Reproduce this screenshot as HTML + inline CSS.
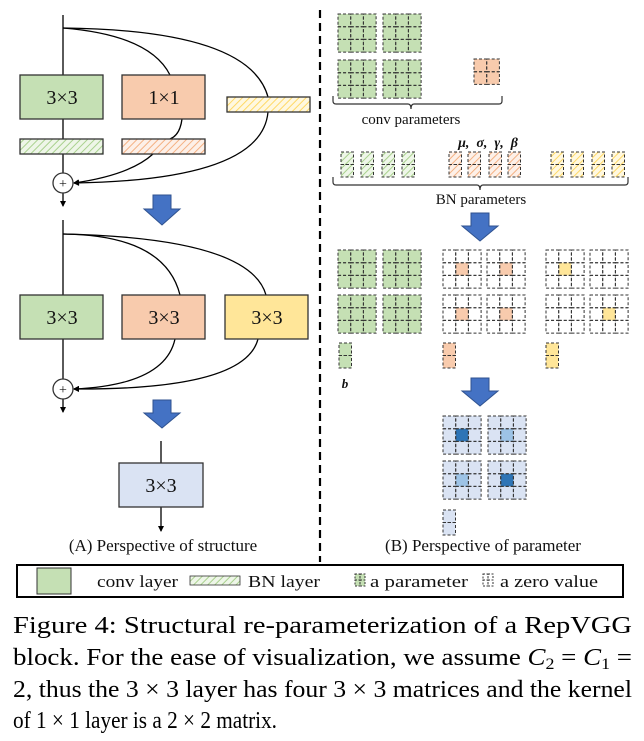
<!DOCTYPE html>
<html><head><meta charset="utf-8"><style>
html,body{margin:0;padding:0;background:#fff;}
svg{display:block;font-family:"Liberation Serif",serif;}
</style></head><body>
<svg width="644" height="741" viewBox="0 0 644 741" xmlns="http://www.w3.org/2000/svg">
<defs>
<pattern id="hg" width="5" height="5" patternUnits="userSpaceOnUse" patternTransform="rotate(45)"><rect width="5" height="5" fill="#eef6e8"/><line x1="0" y1="0" x2="0" y2="5" stroke="#a9d18e" stroke-width="2"/></pattern>
<pattern id="ho" width="5" height="5" patternUnits="userSpaceOnUse" patternTransform="rotate(45)"><rect width="5" height="5" fill="#fdf0e8"/><line x1="0" y1="0" x2="0" y2="5" stroke="#f4b183" stroke-width="2"/></pattern>
<pattern id="hy" width="5" height="5" patternUnits="userSpaceOnUse" patternTransform="rotate(45)"><rect width="5" height="5" fill="#fff8e0"/><line x1="0" y1="0" x2="0" y2="5" stroke="#ffd966" stroke-width="2"/></pattern>
<marker id="ar" markerWidth="6" markerHeight="6" refX="5" refY="3" orient="auto" markerUnits="userSpaceOnUse"><path d="M0,0 L6,3 L0,6 z" fill="#000"/></marker>
<g id="g3" fill="none" stroke="#333" stroke-width="1" stroke-dasharray="3,2">
<rect x="0" y="0" width="12.7" height="12.7"/><rect x="12.7" y="0" width="12.7" height="12.7"/><rect x="25.4" y="0" width="12.7" height="12.7"/>
<rect x="0" y="12.7" width="12.7" height="12.7"/><rect x="12.7" y="12.7" width="12.7" height="12.7"/><rect x="25.4" y="12.7" width="12.7" height="12.7"/>
<rect x="0" y="25.4" width="12.7" height="12.7"/><rect x="12.7" y="25.4" width="12.7" height="12.7"/><rect x="25.4" y="25.4" width="12.7" height="12.7"/>
</g>
<g id="g2" fill="none" stroke="#333" stroke-width="1" stroke-dasharray="3,2">
<rect x="0" y="0" width="12.7" height="12.7"/><rect x="12.7" y="0" width="12.7" height="12.7"/>
<rect x="0" y="12.7" width="12.7" height="12.7"/><rect x="12.7" y="12.7" width="12.7" height="12.7"/>
</g>
<g id="g1" fill="none" stroke="#333" stroke-width="1" stroke-dasharray="3,2">
<rect x="0" y="0" width="12.5" height="12.5"/><rect x="0" y="12.5" width="12.5" height="12.5"/>
</g>
</defs>
<g stroke="#000" stroke-width="1.3" fill="none">
<line x1="63" y1="15" x2="63" y2="75"/>
<path d="M63,28 Q150,35 170,75"/>
<path d="M63,28 Q250,30 268,97"/>
<line x1="63" y1="119" x2="63" y2="139"/>
<line x1="63" y1="154" x2="63" y2="173"/>
<path d="M182,119 Q180,135 170,139"/>
<path d="M153,154 Q130,175 74,183" marker-end="url(#ar)"/>
<path d="M268,112 Q262,180 74,183" marker-end="url(#ar)"/>
<line x1="63" y1="193" x2="63" y2="206" marker-end="url(#ar)"/>
<line x1="63" y1="220" x2="63" y2="295"/>
<path d="M63,234 Q165,235 180,295"/>
<path d="M63,234 Q250,238 266,295"/>
<path d="M175,339 Q165,385 74,389" marker-end="url(#ar)"/>
<path d="M258,339 Q245,390 74,389" marker-end="url(#ar)"/>
<line x1="63" y1="339" x2="63" y2="379"/>
<line x1="63" y1="399" x2="63" y2="412" marker-end="url(#ar)"/>
<line x1="161" y1="441" x2="161" y2="463"/>
<line x1="161" y1="507" x2="161" y2="531" marker-end="url(#ar)"/>
</g>
<g stroke="#333" stroke-width="1.3">
<rect x="20" y="75" width="83" height="44" fill="#c5e0b4"/>
<rect x="122" y="75" width="83" height="44" fill="#f8cbad"/>
<rect x="227" y="97" width="83" height="15" fill="url(#hy)"/>
<rect x="20" y="139" width="83" height="15" fill="url(#hg)"/>
<rect x="122" y="139" width="83" height="15" fill="url(#ho)"/>
<rect x="20" y="295" width="83" height="44" fill="#c5e0b4"/>
<rect x="122" y="295" width="83" height="44" fill="#f8cbad"/>
<rect x="225" y="295" width="83" height="44" fill="#ffe699"/>
<rect x="119" y="463" width="84" height="44" fill="#dae3f3"/>
<circle cx="63" cy="183" r="10" fill="#fff"/>
<circle cx="63" cy="389" r="10" fill="#fff"/>
</g>
<g font-size="20" text-anchor="middle" fill="#111">
<text x="62" y="104">3×3</text><text x="164" y="104">1×1</text>
<text x="62" y="324">3×3</text><text x="164" y="324">3×3</text><text x="267" y="324">3×3</text>
<text x="161" y="492">3×3</text>
<text x="63" y="188" font-size="14">+</text><text x="63" y="394" font-size="14">+</text>
</g>
<g fill="#4472c4" stroke="#2f528f" stroke-width="1">
<path d="M153,195 h18 v14 h9 l-18,16 l-18,-16 h9 z"/>
<path d="M153,400 h18 v13 h9 l-18,15 l-18,-15 h9 z"/>
<path d="M471,213 h18 v13 h9 l-18,15 l-18,-15 h9 z"/>
<path d="M471,378 h18 v13 h9 l-18,15 l-18,-15 h9 z"/>
</g>
<line x1="320" y1="10" x2="320" y2="562" stroke="#000" stroke-width="2.2" stroke-dasharray="8,5"/>

<!-- conv params -->
<g fill="#c5e0b4">
<rect x="338" y="14" width="38" height="38"/><rect x="383" y="14" width="38" height="38"/>
<rect x="338" y="60" width="38" height="38"/><rect x="383" y="60" width="38" height="38"/>
<rect x="338" y="250" width="38" height="38"/><rect x="383" y="250" width="38" height="38"/>
<rect x="338" y="295" width="38" height="38"/><rect x="383" y="295" width="38" height="38"/>
<rect x="339" y="343" width="12.5" height="25"/>
</g>
<rect x="474" y="59" width="25.4" height="25.4" fill="#f8cbad"/>
<use href="#g3" x="338" y="14"/><use href="#g3" x="383" y="14"/><use href="#g3" x="338" y="60"/><use href="#g3" x="383" y="60"/>
<use href="#g2" x="474" y="59"/>

<!-- BN params -->
<g fill="url(#hg)"><rect x="341" y="152" width="12.5" height="25"/><rect x="361" y="152" width="12.5" height="25"/><rect x="382" y="152" width="12.5" height="25"/><rect x="402" y="152" width="12.5" height="25"/></g>
<g fill="url(#ho)"><rect x="449" y="152" width="12.5" height="25"/><rect x="468" y="152" width="12.5" height="25"/><rect x="489" y="152" width="12.5" height="25"/><rect x="508" y="152" width="12.5" height="25"/></g>
<g fill="url(#hy)"><rect x="551" y="152" width="12.5" height="25"/><rect x="571" y="152" width="12.5" height="25"/><rect x="592" y="152" width="12.5" height="25"/><rect x="612" y="152" width="12.5" height="25"/></g>
<use href="#g1" x="341" y="152"/><use href="#g1" x="361" y="152"/><use href="#g1" x="382" y="152"/><use href="#g1" x="402" y="152"/>
<use href="#g1" x="449" y="152"/><use href="#g1" x="468" y="152"/><use href="#g1" x="489" y="152"/><use href="#g1" x="508" y="152"/>
<use href="#g1" x="551" y="152"/><use href="#g1" x="571" y="152"/><use href="#g1" x="592" y="152"/><use href="#g1" x="612" y="152"/>

<!-- fused row -->
<g fill="#f8cbad">
<rect x="455.7" y="262.7" width="12.7" height="12.7"/><rect x="499.7" y="262.7" width="12.7" height="12.7"/>
<rect x="455.7" y="307.7" width="12.7" height="12.7"/><rect x="499.7" y="307.7" width="12.7" height="12.7"/>
<rect x="443" y="343" width="12.5" height="25"/>
</g>
<g fill="#ffe699">
<rect x="558.7" y="262.7" width="12.7" height="12.7"/><rect x="602.7" y="307.7" width="12.7" height="12.7"/>
<rect x="546" y="343" width="12.5" height="25"/>
</g>
<use href="#g3" x="338" y="250"/><use href="#g3" x="383" y="250"/><use href="#g3" x="338" y="295"/><use href="#g3" x="383" y="295"/>
<use href="#g3" x="443" y="250"/><use href="#g3" x="487" y="250"/><use href="#g3" x="443" y="295"/><use href="#g3" x="487" y="295"/>
<use href="#g3" x="546" y="250"/><use href="#g3" x="590" y="250"/><use href="#g3" x="546" y="295"/><use href="#g3" x="590" y="295"/>
<use href="#g1" x="339" y="343"/><use href="#g1" x="443" y="343"/><use href="#g1" x="546" y="343"/>

<!-- final -->
<g fill="#dae3f3">
<rect x="443" y="416" width="38" height="38"/><rect x="488" y="416" width="38" height="38"/>
<rect x="443" y="461" width="38" height="38"/><rect x="488" y="461" width="38" height="38"/>
<rect x="443" y="510" width="12.5" height="25"/>
</g>
<rect x="455.7" y="428.7" width="12.7" height="12.7" fill="#2e75b6"/>
<rect x="500.7" y="428.7" width="12.7" height="12.7" fill="#9dc3e6"/>
<rect x="455.7" y="473.7" width="12.7" height="12.7" fill="#9dc3e6"/>
<rect x="500.7" y="473.7" width="12.7" height="12.7" fill="#2e75b6"/>
<use href="#g3" x="443" y="416"/><use href="#g3" x="488" y="416"/><use href="#g3" x="443" y="461"/><use href="#g3" x="488" y="461"/>
<use href="#g1" x="443" y="510"/>

<g stroke="#333" stroke-width="1.2" fill="none">
<path d="M333,96 v5 q0,3 3,3 h72 q3,0 3,5 q0,-5 3,-5 h85 q3,0 3,-3 v-5"/>
<path d="M333,177 v5 q0,3 3,3 h141 q3,0 3,5 q0,-5 3,-5 h142 q3,0 3,-3 v-5"/>
</g>
<g font-size="15" fill="#111" text-anchor="middle">
<text x="411" y="124">conv parameters</text>
<text x="481" y="204">BN parameters</text>
<text x="488" y="147" font-weight="bold" font-style="italic" font-size="14">μ,&#160; σ,&#160; γ,&#160; β</text>
<text x="345" y="388" font-weight="bold" font-style="italic" font-size="13">b</text>
<text x="163" y="551" font-size="17">(A) Perspective of structure</text>
<text x="483" y="551" font-size="17">(B) Perspective of parameter</text>
</g>
<rect x="17" y="565" width="606" height="32" fill="none" stroke="#000" stroke-width="2"/>
<rect x="37" y="568" width="34" height="26" fill="#c5e0b4" stroke="#333" stroke-width="1"/>
<rect x="190" y="576" width="50" height="9" fill="url(#hg)" stroke="#333" stroke-width="0.8"/>
<rect x="355" y="574" width="10" height="12" fill="#c5e0b4"/>
<g fill="none" stroke="#333" stroke-width="1" stroke-dasharray="2,1.5">
<rect x="355" y="574" width="5" height="6"/><rect x="360" y="574" width="5" height="6"/><rect x="355" y="580" width="5" height="6"/><rect x="360" y="580" width="5" height="6"/>
<rect x="483" y="574" width="5" height="6"/><rect x="488" y="574" width="5" height="6"/><rect x="483" y="580" width="5" height="6"/><rect x="488" y="580" width="5" height="6"/>
</g>
<g font-size="17" fill="#111">
<text x="97" y="587" textLength="81" lengthAdjust="spacingAndGlyphs">conv layer</text>
<text x="248" y="587" textLength="72" lengthAdjust="spacingAndGlyphs">BN layer</text>
<text x="370" y="587" textLength="98" lengthAdjust="spacingAndGlyphs">a parameter</text>
<text x="500" y="587" textLength="98" lengthAdjust="spacingAndGlyphs">a zero value</text>
</g>
<g font-size="24" fill="#000">
<text x="13" y="633" textLength="619" lengthAdjust="spacingAndGlyphs">Figure 4:  Structural re-parameterization of a RepVGG</text>
<text x="13" y="665" textLength="619" lengthAdjust="spacingAndGlyphs">block. For the ease of visualization, we assume <tspan font-style="italic">C</tspan><tspan font-size="16" dy="4">2</tspan><tspan dy="-4"> = </tspan><tspan font-style="italic">C</tspan><tspan font-size="16" dy="4">1</tspan><tspan dy="-4"> =</tspan></text>
<text x="13" y="697" textLength="619" lengthAdjust="spacingAndGlyphs">2, thus the 3 × 3 layer has four 3 × 3 matrices and the kernel</text>
<text x="13" y="728" textLength="264" lengthAdjust="spacingAndGlyphs">of 1 × 1 layer is a 2 × 2 matrix.</text>
</g>
</svg>
</body></html>
